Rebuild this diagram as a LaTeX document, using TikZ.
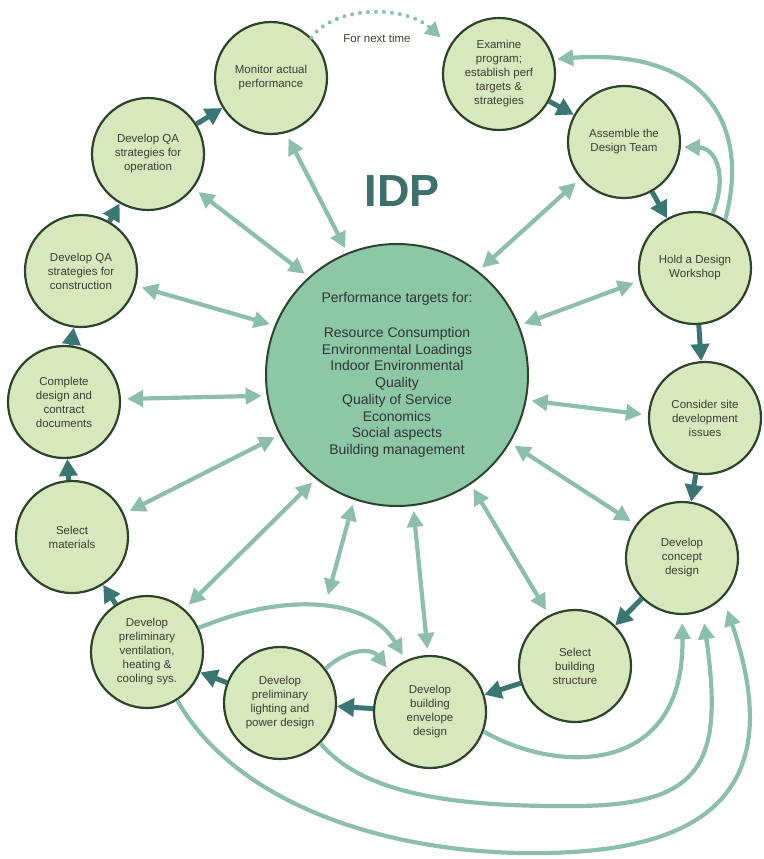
\documentclass[tikz,border=0pt]{standalone}
\usepackage{fontspec}
\setmainfont{Liberation Sans}
\usetikzlibrary{arrows.meta}

\definecolor{stagefill}{RGB}{214,232,188}
\definecolor{hubfill}{RGB}{140,200,165}
\definecolor{rimgreen}{RGB}{44,68,44}
\definecolor{linkteal}{RGB}{140,190,174}
\definecolor{flowteal}{RGB}{58,118,116}
\definecolor{idpteal}{RGB}{62,112,108}
\definecolor{labelgray}{RGB}{60,62,52}

\begin{document}
\begin{tikzpicture}[x=1pt, y=-1pt,
    stage/.style={circle, draw=rimgreen, line width=2.2pt, fill=stagefill, minimum size=112pt, inner sep=0pt, align=center, text=labelgray, font=\fontsize{11.5}{14}\selectfont},
    hub/.style={circle, draw=rimgreen, line width=2pt, fill=hubfill, minimum size=262pt, inner sep=0pt, align=center, text=black!80, font=\fontsize{14}{16.7}\selectfont},
    linkarr/.style={draw=linkteal, line width=4.2pt, {Triangle[length=16pt,width=16pt]}-{Triangle[length=16pt,width=16pt]}, shorten <=5pt, shorten >=6pt},
    backarr/.style={draw=linkteal, line width=4.2pt, -{Triangle[length=16pt,width=16pt]}},
    flowarr/.style={draw=flowteal, line width=5pt, -{Triangle[length=17pt,width=18pt]}},
    nexttime/.style={draw=linkteal, line width=4pt, dash pattern=on 0pt off 8pt, line cap=round, -{Triangle[length=15pt,width=16pt]}}]
    \useasboundingbox (0,0) rectangle (763,859);

    \node[hub] (ctr) at (397,375) {Performance targets for:\\[18pt]Resource Consumption\\Environmental Loadings\\Indoor Environmental\\Quality\\Quality of Service\\Economics\\Social aspects\\Building management};
    \node[font=\bfseries\fontsize{45}{45}\selectfont, text=idpteal] (idp) at (402,191) {IDP};

    \node[stage] (exam) at (499,74) {Examine\\program;\\establish perf\\targets \&\\strategies};
    \node[stage] (assem) at (624,142) {Assemble the\\Design Team};
    \node[stage] (hold) at (695,268) {Hold a Design\\Workshop};
    \node[stage] (site) at (705,418) {Consider site\\development\\issues};
    \node[stage] (concept) at (682,558) {Develop\\concept\\design};
    \node[stage] (struct) at (575,666) {Select\\building\\structure};
    \node[stage] (env) at (430,712) {Develop\\building\\envelope\\design};
    \node[stage] (light) at (280,703) {Develop\\preliminary\\lighting and\\power design};
    \node[stage] (vent) at (147,652) {Develop\\preliminary\\ventilation,\\heating \&\\cooling sys.};
    \node[stage] (mat) at (72,537) {Select\\materials};
    \node[stage] (docs) at (64,402) {Complete\\design and\\contract\\documents};
    \node[stage] (qacon) at (81,271) {Develop QA\\strategies for\\construction};
    \node[stage] (qaop) at (148,154) {Develop QA\\strategies for\\operation};
    \node[stage] (mon) at (271,78) {Monitor actual\\performance};
    \node[font=\fontsize{11.5}{14}\selectfont, text=labelgray] (nextlbl) at (377,38) {For next time};
    \coordinate (lighttip) at (328,595);

    \draw[flowarr] (exam) -- (assem);
    \draw[flowarr] (assem) -- (hold);
    \draw[flowarr] (hold) -- (site);
    \draw[flowarr] (site) -- (concept);
    \draw[flowarr] (concept) -- (struct);
    \draw[flowarr] (struct) -- (env);
    \draw[flowarr] (env) -- (light);
    \draw[flowarr] (light) -- (vent);
    \draw[flowarr] (vent) -- (mat);
    \draw[flowarr] (mat) -- (docs);
    \draw[flowarr] (docs) -- (qacon);
    \draw[flowarr] (qacon) -- (qaop);
    \draw[flowarr] (qaop) -- (mon);
    \draw[nexttime, shorten >=12pt] (mon.45) .. controls (335,5) and (405,5) .. (exam.150);

    \draw[linkarr] (ctr.112.6) -- (mon.285);
    \draw[linkarr] (ctr.132.6) -- (qaop.-37);
    \draw[linkarr] (ctr.158.8) -- (qacon.-15);
    \draw[linkarr] (ctr.189.5) -- (docs.3.6);
    \draw[linkarr] (ctr.207.9) -- (mat.24);
    \draw[linkarr] (ctr.232.8) -- (vent.49);
    \draw[linkarr, shorten >=0pt] (ctr.251.8) -- (lighttip);
    \draw[linkarr] (ctr.277.6) -- (env.92);
    \draw[linkarr] (ctr.-56.2) -- (struct.117);
    \draw[linkarr] (ctr.-31.4) -- (concept.144.5);
    \draw[linkarr] (ctr.-11) -- (site.177);
    \draw[linkarr] (ctr.22.4) -- (hold.193);
    \draw[linkarr] (ctr.52.2) -- (assem.220);

    \draw[backarr, shorten >=3pt] (hold.72) .. controls (728,175) and (716,148) .. (assem.-5);
    \draw[backarr, shorten >=3pt] (hold.58) .. controls (752,120) and (700,48) .. (exam.15);
    \draw[backarr, shorten >=8pt] (env.-20) .. controls (560,775) and (685,775) .. (concept.-90);
    \draw[backarr, shorten >=12pt] (light.-45) .. controls (360,790) and (440,806) .. (560,806) .. controls (700,808) and (725,770) .. (concept.-69);
    \draw[backarr, shorten >=13pt] (vent.-58) .. controls (240,810) and (400,855) .. (540,853) .. controls (720,852) and (785,780) .. (concept.-44);
    \draw[backarr, shorten >=6pt] (vent.25) .. controls (290,590) and (370,600) .. (env.115);
    \draw[backarr, shorten >=5pt] (light.37) .. controls (348,648) and (372,648) .. (env.135);
\end{tikzpicture}
\end{document}
